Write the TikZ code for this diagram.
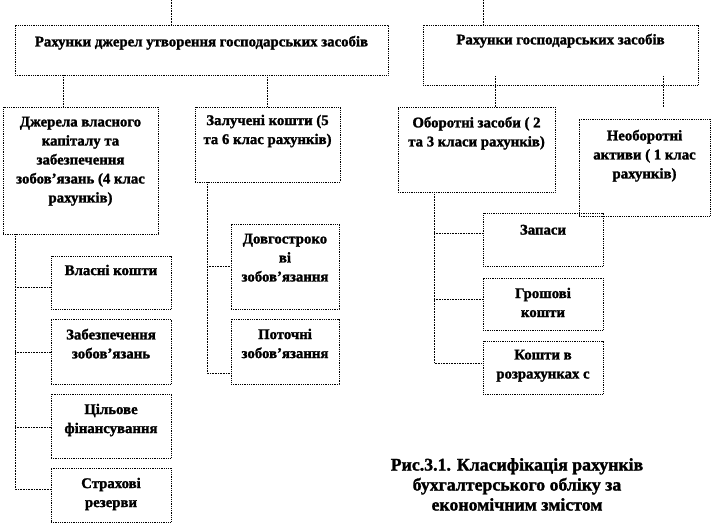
\documentclass[tikz,border=0pt]{standalone}
\usepackage{fontspec}
\setmainfont{Liberation Serif}[BoldFeatures={FakeBold=1.5}]
\usetikzlibrary{fit}
\tikzset{
  boxst/.style={draw=black, line width=0.8pt, densely dotted, inner sep=0pt},
  txt/.style={align=center, anchor=north, inner sep=0pt, font=\bfseries\fontsize{14.8}{19}\selectfont},
  capt/.style={align=center, anchor=north, inner sep=0pt, font=\bfseries\fontsize{17.8}{20}\selectfont},
  conn/.style={draw=black, line width=0.6pt, densely dotted}
}
\newcommand\bx[7]{%
  \node[boxst, fit={(#2,#3) (#4,#5)}] (#1) {};
  \node[txt] (#1t) at ([yshift=-#6pt]#1.north) {#7};
}
\begin{document}
\begin{tikzpicture}[x=1pt,y=-1pt]
\useasboundingbox (0,0) rectangle (714,525);
% left part
\bx{A}{15}{25}{388}{75}{11}{Рахунки джерел утворення господарських засобів}
\bx{B}{3}{107}{158}{234}{10}{Джерела власного\\капіталу та\\забезпечення\\зобов’язань (4 клас\\рахунків)}
\bx{C}{195}{107}{340}{182}{8}{Залучені кошти (5\\та 6 клас рахунків)}
\bx{D}{231}{224}{339}{309}{10}{Довгостроко\\ві\\зобов’язання}
\bx{P}{231}{319}{339}{384}{10}{Поточні\\зобов’язання}
\bx{Vk}{51}{256}{171}{309}{9}{Власні кошти}
\bx{Zz}{51}{319}{171}{384}{10}{Забезпечення\\зобов’язань}
\bx{Cf}{51}{394}{171}{458}{10}{Цільове\\фінансування}
\bx{St}{51}{468}{171}{522}{10}{Страхові\\резерви}
% right part
\bx{R}{423}{25}{698}{85}{9}{Рахунки господарських засобів}
\bx{O}{398}{107}{555}{192}{10}{Оборотні засоби ( 2\\та 3 класи рахунків)}
\bx{N}{579}{119}{710}{216}{11}{Необоротні\\активи ( 1 клас\\рахунків)}
\bx{Zp}{483}{213}{603}{266}{12}{Запаси}
\bx{Gk}{483}{278}{603}{330}{10}{Грошові\\кошти}
\bx{Kr}{483}{341}{603}{394}{9}{Кошти в\\розрахунках с}
% caption
\node[capt] (cap) at (517,458) {Рис.3.1. Класифікація рахунків\\бухгалтерського обліку за\\економічним змістом};
% connectors left
\coordinate (tl) at (171,0);
\draw[conn] (tl) -- (tl |- A.north);
\coordinate (ab1) at (63,0);
\coordinate (ab2) at (267,0);
\draw[conn] (ab1 |- A.south) -- (ab1 |- B.north);
\draw[conn] (ab2 |- A.south) -- (ab2 |- C.north);
\coordinate (lt) at (15,489);
\draw[conn] (lt |- B.south) -- (lt) -- (lt -| St.west);
\draw[conn] (15,287) -- (Vk.west |- 0,287);
\draw[conn] (15,352) -- (Zz.west |- 0,352);
\draw[conn] (15,427) -- (Cf.west |- 0,427);
\coordinate (ct) at (207,373);
\draw[conn] (ct |- C.south) -- (ct) -- (ct -| P.west);
\draw[conn] (207,266) -- (D.west |- 0,266);
% connectors right
\coordinate (tr) at (483,0);
\draw[conn] (tr) -- (tr |- R.north);
\coordinate (ro1) at (495,76);
\coordinate (ro2) at (663,76);
\coordinate (ro2e) at (663,107);
\draw[conn] (ro1) -- (ro1 |- O.north);
\draw[conn] (ro2) -- (ro2e);
\coordinate (ot) at (434,363);
\draw[conn] (ot |- O.south) -- (ot) -- (ot -| Kr.west);
\draw[conn] (434,233) -- (Zp.west |- 0,233);
\draw[conn] (434,299) -- (Gk.west |- 0,299);
\end{tikzpicture}
\end{document}
